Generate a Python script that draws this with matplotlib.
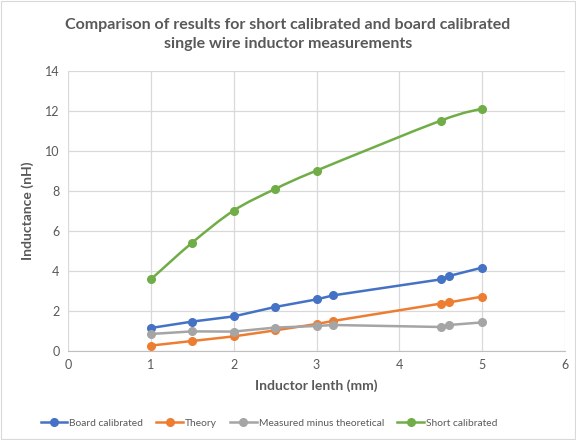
import numpy as np
import matplotlib.pyplot as plt
from matplotlib.path import Path
from matplotlib.patches import PathPatch, Rectangle

plt.rcParams['font.family'] = ['Lato', 'DejaVu Sans']

# data
length = [1, 1.5, 2, 2.5, 3, 3.2, 4.5, 4.6, 5]
board = [1.15, 1.47, 1.73, 2.2, 2.58, 2.78, 3.58, 3.75, 4.17]
theory = [0.27, 0.5, 0.73, 1.03, 1.35, 1.5, 2.37, 2.43, 2.72]
diff = [0.85, 0.98, 0.97, 1.17, 1.25, 1.3, 1.2, 1.3, 1.43]

short_len = [1, 1.5, 2, 2.5, 3, 4.5, 5]
short = [3.58, 5.42, 7.02, 8.1, 9.02, 11.52, 12.12]

c_blue = '#4472C4'
c_orange = '#ED7D31'
c_gray = '#A5A5A5'
c_green = '#70AD47'
txt = '#595959'

fig = plt.figure(figsize=(5.76, 4.40), dpi=100)
ax = fig.add_axes([0.118, 0.2023, 0.863, 0.6363])

# outer chart border
fig.patches.append(Rectangle((0.002, 0.002), 0.996, 0.996, transform=fig.transFigure,
                             fill=False, edgecolor='#d9d9d9', lw=0.8))


def smooth_line(ax, xs, ys, color):
    # excel style smoothed line: cubic bezier, catmull-rom tangents
    p = np.column_stack([xs, ys]).astype(float)
    n = len(p)
    verts = [p[0]]
    codes = [Path.MOVETO]
    for i in range(n - 1):
        p0 = p[i - 1] if i > 0 else p[i]
        p3 = p[i + 2] if i + 2 < n else p[i + 1]
        c1 = p[i] + (p[i + 1] - p0) / 6
        c2 = p[i + 1] - (p3 - p[i]) / 6
        verts += [c1, c2, p[i + 1]]
        codes += [Path.CURVE4] * 3
    ax.add_patch(PathPatch(Path(verts, codes), fill=False, edgecolor=color, lw=1.8,
                           zorder=3, capstyle='round'))


ax.plot(length, board, color=c_blue, lw=1.8, marker='o', ms=5.5, label='Board calibrated', zorder=4)
ax.plot(length, theory, color=c_orange, lw=1.8, marker='o', ms=5.5, label='Theory', zorder=4)
ax.plot(length, diff, color=c_gray, lw=1.8, marker='o', ms=5.5, label='Measured minus theoretical', zorder=4)
smooth_line(ax, short_len, short, c_green)
ax.plot(short_len, short, color=c_green, lw=0, marker='o', ms=5.5, zorder=4)
ax.plot([], [], color=c_green, lw=1.8, marker='o', ms=5.5, label='Short calibrated')

ax.set_xlim(0, 6)
ax.set_ylim(0, 14)
ax.set_xticks(range(0, 7))
ax.set_yticks(range(0, 15, 2))
ax.grid(True, color='#d9d9d9', lw=0.9)
ax.set_axisbelow(True)
for s in ['top', 'right', 'left']:
    ax.spines[s].set_visible(False)
ax.spines['bottom'].set_color('#bfbfbf')
ax.tick_params(length=0, colors=txt, labelsize=9, pad=6)

ax.set_xlabel('Inductor lenth (mm)', fontsize=10, fontweight='bold', color=txt, labelpad=6)
ax.set_ylabel('Inductance (nH)', fontsize=10, fontweight='bold', color=txt, labelpad=8)

fig.text(0.5, 0.922, 'Comparison of results for short calibrated and board calibrated\nsingle wire inductor measurements',
         ha='center', va='center', fontsize=11.5, fontweight='bold', color=txt, linespacing=1.5)

fig.legend(loc='center', bbox_to_anchor=(0.467, 0.038), ncol=4, frameon=False,
           fontsize=7.4, labelcolor=txt, handlelength=2.6, columnspacing=1.27, handletextpad=0.2)

fig.savefig('out.png', dpi=100)
